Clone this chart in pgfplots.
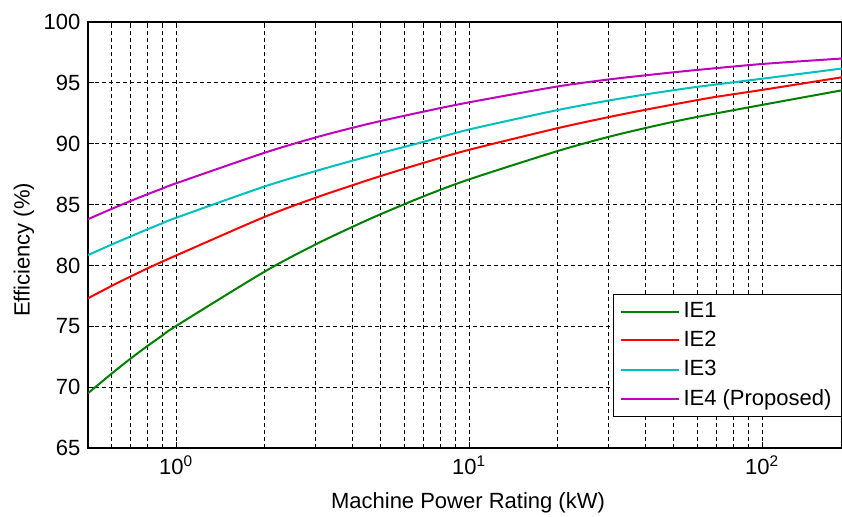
\documentclass[border=0pt]{standalone}
\usepackage{fontspec}
\setmainfont{Liberation Sans}
\usepackage{pgfplots}
\pgfplotsset{compat=1.18}
\definecolor{mgreen}{rgb}{0,0.5,0}
\definecolor{mred}{rgb}{1,0,0}
\definecolor{mcyan}{rgb}{0,0.75,0.75}
\definecolor{mmag}{rgb}{0.75,0,0.75}
\begin{document}
\fontsize{11pt}{13pt}\selectfont
\begin{tikzpicture}[font=\fontsize{11pt}{13pt}\selectfont]
\begin{axis}[
  at={(0,0)}, anchor=south west,
  scale only axis, width=377pt, height=213pt,
  xmode=log, log basis x=10,
  xmin=0.5, xmax=187.5, ymin=65, ymax=100,
  xtick={1,10,100},
  minor xtick={0.5,0.6,0.7,0.8,0.9,2,3,4,5,6,7,8,9,20,30,40,50,60,70,80,90},
  xticklabels={10\textsuperscript{0},10\textsuperscript{1},10\textsuperscript{2}},
  ytick={65,70,...,100},
  /pgf/number format/assume math mode=true,
  xmajorgrids=true, xminorgrids=true, ymajorgrids=true,
  major grid style={black, line width=0.5pt, dash pattern=on 2pt off 1.5pt},
  minor grid style={black, line width=0.5pt, dash pattern=on 2pt off 1.5pt},
  axis line style={black, line width=0.6pt},
  tick style={black, line width=0.5pt},
  tick align=inside,
  major tick length=3pt, minor tick length=1.5pt,
  xlabel={Machine Power Rating (kW)},
  ylabel={Efficiency (\%)},
  xlabel style={at={(axis description cs:0.504,-0.129)}, anchor=center, inner sep=0pt},
  ylabel style={at={(axis description cs:-0.0849,0.465)}, anchor=center, inner sep=0pt},
  legend cell align=left,
  legend style={at={(rel axis cs:1,0.0728)}, anchor=south east, draw=black, line width=0.5pt,
    font=\fontsize{11pt}{13pt}\selectfont, inner xsep=3pt, inner ysep=2pt, row sep=1.2pt,
    fill=white},
  legend image code/.code={\draw[#1, line width=1pt] (0pt,0pt) -- (29pt,0pt);},
]
\addplot[mgreen, line width=1pt, smooth] coordinates {
(0.5,69.5) (0.6,71.08) (0.7,72.36) (0.8,73.40) (0.9,74.27) (1,75.03) (2,79.48) (3,81.74)
(4,83.17) (5,84.22) (7,85.68) (10,87.07) (20,89.39) (30,90.57) (40,91.29) (50,91.81)
(60,92.20) (70,92.50) (100,93.19) (187.5,94.39)};
\addlegendentry{IE1}
\addplot[mred, line width=1pt, smooth] coordinates {
(0.5,77.3) (0.6,78.30) (0.7,79.10) (0.8,79.77) (0.9,80.33) (1,80.82) (2,83.98) (3,85.57)
(4,86.59) (5,87.35) (7,88.43) (10,89.50) (20,91.27) (30,92.19) (40,92.79) (50,93.23)
(60,93.58) (70,93.86) (100,94.42) (187.5,95.46)};
\addlegendentry{IE2}
\addplot[mcyan, line width=1pt, smooth] coordinates {
(0.5,80.85) (0.6,81.70) (0.7,82.39) (0.8,82.98) (0.9,83.48) (1,83.92) (2,86.48) (3,87.76)
(4,88.61) (5,89.24) (7,90.16) (10,91.17) (20,92.76) (30,93.55) (40,94.05) (50,94.40)
(60,94.67) (100,95.34) (187.5,96.18)};
\addlegendentry{IE3}
\addplot[mmag, line width=1pt, smooth] coordinates {
(0.5,83.8) (0.6,84.63) (0.7,85.30) (0.8,85.86) (0.9,86.33) (1,86.75) (2,89.25) (3,90.52)
(4,91.31) (5,91.87) (7,92.64) (10,93.40) (20,94.70) (30,95.28) (40,95.62) (50,95.87)
(60,96.06) (100,96.55) (187.5,97.0)};
\addlegendentry{IE4 (Proposed)}
\end{axis}
\pgfresetboundingbox
\path (-44pt,-34pt) rectangle (377pt,224pt);
\end{tikzpicture}
\end{document}
